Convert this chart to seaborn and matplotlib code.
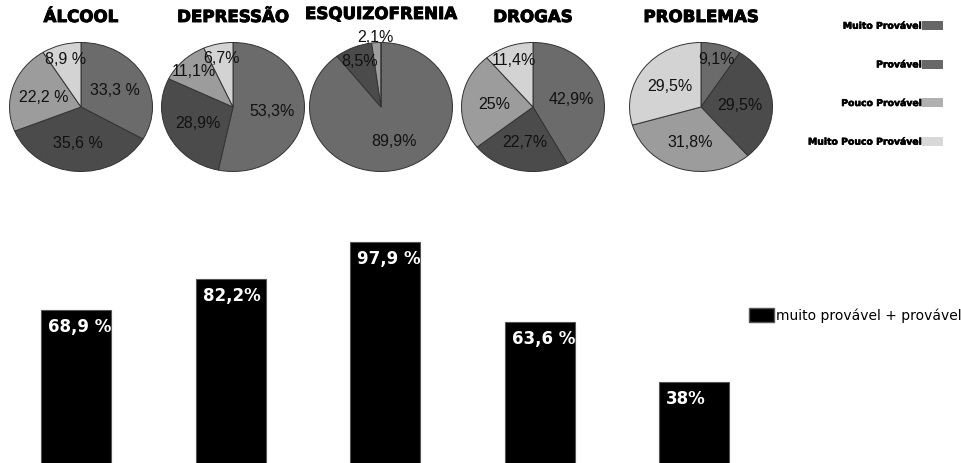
import numpy as np
import matplotlib
matplotlib.use("Agg")
import matplotlib.pyplot as plt
import matplotlib.patheffects as pe
import seaborn as sns
import pandas as pd
from matplotlib.patches import Patch

# ---------------- data ----------------
pie_titles = ["ÁLCOOL", "DEPRESSÃO", "ESQUIZOFRENIA", "DROGAS", "PROBLEMAS"]
levels = ["Muito Provável", "Provável", "Pouco Provável", "Muito Pouco Provável"]
alcool = [33.3, 35.6, 22.2, 8.9]
depressao = [53.3, 28.9, 11.1, 6.7]
esquizofrenia = [89.9, 8.5, 2.1, 0.0]
drogas = [42.9, 22.7, 25.0, 11.4]
problemas = [9.1, 29.5, 31.8, 29.5]
pct_sep = [" ", "", "", "", ""]  # ÁLCOOL labels are written "33,3 %"

bar_categories = pie_titles
bar_values = [68.9, 82.2, 97.9, 63.6, 38.0]
bar_labels = ["68,9 %", "82,2%", "97,9 %", "63,6 %", "38%"]
bar_series = "muito provável + provável"

# ---------------- style ----------------
sns.set_theme(style="white")
plt.rcParams['font.family'] = ['DejaVu Sans']
plt.rcParams['text.color'] = 'black'

W, H = 962, 464
fig = plt.figure(figsize=(W / 100, H / 100), dpi=100)
fig.patch.set_facecolor("white")

pie_colors = ["#6b6b6b", "#4b4b4b", "#9c9c9c", "#d3d3d3"]
legend_colors = ["#666666", "#686868", "#b0b0b0", "#d8d8d8"]

pie_centers_px = [81, 233, 381, 533, 701]
title_y_px = [18, 18, 15, 18, 18]
rx, ry, cy = 71.5, 64.5, 108
pad = 1.03
heavy = [pe.withStroke(linewidth=0.7, foreground="black")]


def fmt(v, sep):
    s = f"{v:.1f}".replace(".", ",")
    if s.endswith(",0"):
        s = s[:-2]
    return s + sep + "%"


all_pies = [alcool, depressao, esquizofrenia, drogas, problemas]
for i, vals in enumerate(all_pies):
    cx = pie_centers_px[i]
    ax = fig.add_axes([(cx - rx * pad) / W, 1 - (cy + ry * pad) / H,
                       2 * rx * pad / W, 2 * ry * pad / H])
    wedges, _ = ax.pie(vals, colors=pie_colors, startangle=90, counterclock=False,
                       wedgeprops=dict(edgecolor="#333333", linewidth=0.7))
    ax.set_aspect("auto")
    ax.set_xlim(-pad, pad)
    ax.set_ylim(-pad, pad)
    ax.axis("off")
    for w, v in zip(wedges, vals):
        if v <= 0:
            continue
        th = np.deg2rad((w.theta1 + w.theta2) / 2)
        d = 0.55 if v >= 15 else (0.78 if v >= 5 else 1.1)
        ax.text(d * np.cos(th), d * np.sin(th), fmt(v, pct_sep[i]),
                ha="center", va="center", fontsize=11.5,
                family=["Liberation Sans", "DejaVu Sans"], color="#111111")
    fig.text(cx / W, 1 - title_y_px[i] / H, pie_titles[i], ha="center", va="center",
             fontsize=12, fontweight="heavy", color="black", path_effects=heavy)

# pie legend (text then swatch)
pie_handles = [Patch(facecolor=c, edgecolor="none", label=l)
               for c, l in zip(legend_colors, levels)]
leg1 = fig.legend(handles=pie_handles, loc="upper right",
                  bbox_to_anchor=(943 / W, 1 - 22 / H), markerfirst=False, frameon=False,
                  prop=dict(weight="bold", size=6.7), handlelength=2.3, handleheight=1.15,
                  handletextpad=0.0, labelspacing=3.1, borderpad=0, borderaxespad=0)
for t in leg1.get_texts():
    t.set_color("black")
    t.set_path_effects([pe.withStroke(linewidth=0.4, foreground="black")])

# ---------------- bar chart ----------------
df = pd.DataFrame({"categoria": bar_categories, "valor": bar_values})
step = 154.55
c0 = 76.1
ax_b = fig.add_axes([(c0 - 0.5 * step) / W, 0, 5 * step / W, (464 - 238.6) / H])
sns.barplot(data=df, x="categoria", y="valor", color="black", width=70 / step,
            edgecolor="#555555", linewidth=0.8, saturation=1, ax=ax_b)
ax_b.set_xlim(-0.5, 4.5)
ax_b.set_ylim(3, 100)
ax_b.axis("off")

for p, lab in zip(ax_b.patches, bar_labels):
    t = ax_b.annotate(lab, xy=(p.get_x(), p.get_height()), xytext=(5, -5),
                      textcoords="offset points", ha="left", va="top",
                      color="white", fontweight="bold", fontsize=12)
    t.set_clip_path(p)

leg2 = fig.legend(handles=[Patch(facecolor="black", edgecolor="#555555", label=bar_series)],
                  loc="center left", bbox_to_anchor=(749 / W, 1 - 316 / H), frameon=False,
                  fontsize=10, handlelength=1.8, handleheight=1.2, handletextpad=0.15,
                  borderpad=0, borderaxespad=0)
for t in leg2.get_texts():
    t.set_color("black")

fig.savefig("out.png", dpi=100, facecolor="white")
